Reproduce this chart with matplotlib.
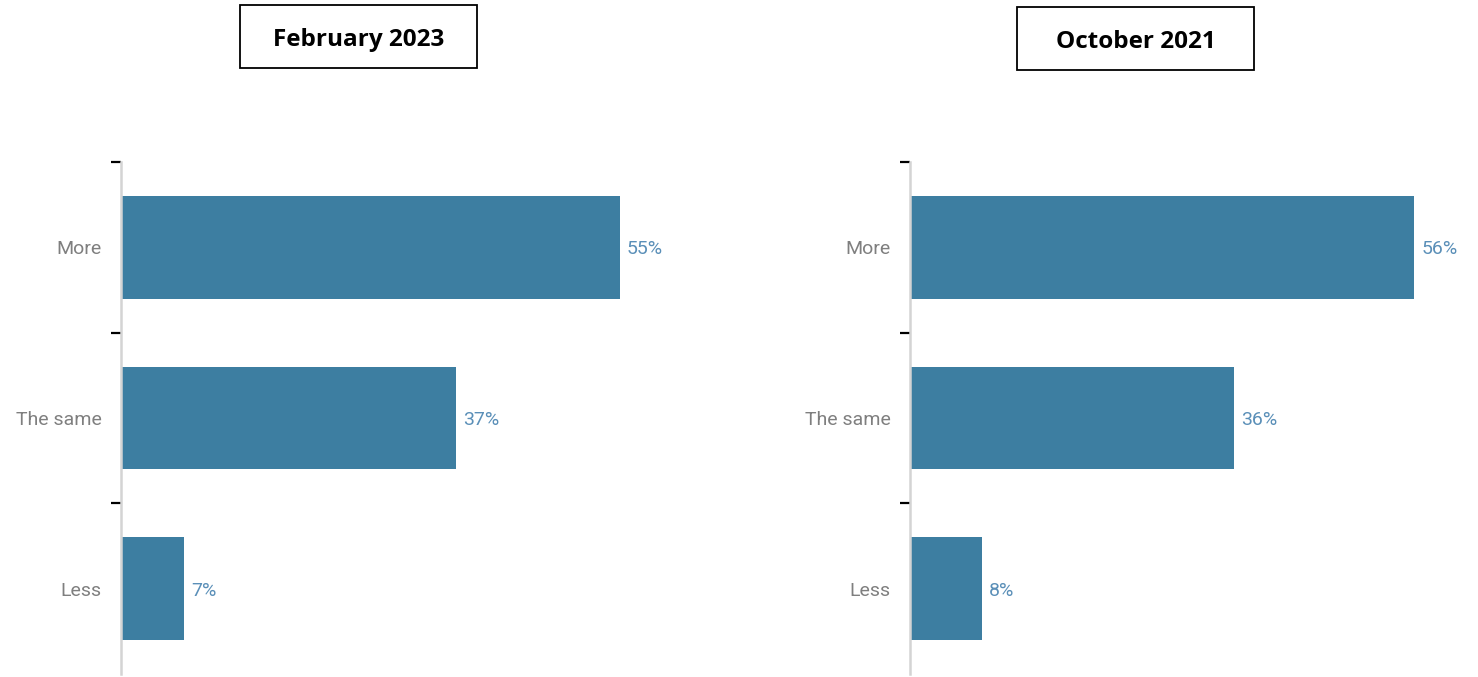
import matplotlib
matplotlib.use("Agg")
import matplotlib.pyplot as plt
from matplotlib.patches import Rectangle
from matplotlib import font_manager

categories = ["More", "The same", "Less"]
feb2023 = [55, 37, 7]
oct2021 = [56, 36, 8]
titles = ["February 2023", "October 2021"]

names = {f.name for f in font_manager.fontManager.ttflist}
label_font = "Liberation Sans Narrow" if "Liberation Sans Narrow" in names else "Roboto"

W, H = 1478, 677
fig = plt.figure(figsize=(W / 100, H / 100), dpi=100)

bar_color = "#3d7ea1"
val_color = "#5a8fb8"
lab_color = "#7f7f7f"

def px(x0, y0, x1, y1):
    return [x0 / W, 1 - y1 / H, (x1 - x0) / W, (y1 - y0) / H]

axes_specs = [(121, feb2023, 60), (910, oct2021, 60.4)]
for (x0, vals, xmax) in axes_specs:
    ax = fig.add_axes(px(x0, 162, x0 + 544, 674))
    ypos = list(range(len(categories)))
    ax.barh(ypos, vals, height=0.6, color=bar_color)
    ax.set_xlim(0, xmax)
    ax.set_ylim(len(categories) - 0.5, -0.5)
    for s in ["top", "right", "bottom"]:
        ax.spines[s].set_visible(False)
    ax.spines["left"].set_color("#d4d4d4")
    ax.spines["left"].set_linewidth(1.8)
    ax.set_xticks([])
    ax.set_yticks([-0.5, 0.5, 1.5])
    ax.set_yticklabels([])
    ax.tick_params(axis="y", which="major", length=7, width=1.6, color="black")
    ax.set_yticks(ypos, minor=True)
    ax.set_yticklabels(categories, minor=True, fontsize=14, color=lab_color,
                       family=label_font)
    ax.tick_params(axis="y", which="minor", length=0, pad=14)
    for y, v in zip(ypos, vals):
        ax.annotate(f"{v}%", (v, y), xytext=(5, 0), textcoords="offset points",
                    va="center_baseline", ha="left", fontsize=14, color=val_color,
                    family=label_font)

boxes = [(240, 5, 477, 68), (1017, 7, 1254, 70)]
for (x0, y0, x1, y1), t in zip(boxes, titles):
    r = px(x0, y0, x1, y1)
    fig.add_artist(Rectangle((r[0], r[1]), r[2], r[3], transform=fig.transFigure,
                             fill=False, edgecolor="black", linewidth=1.3))
    fig.text(r[0] + r[2] / 2, r[1] + r[3] / 2, t, ha="center", va="center_baseline",
             fontsize=17.5, fontweight="bold", family="Open Sans")

fig.savefig("out.png", dpi=100)
